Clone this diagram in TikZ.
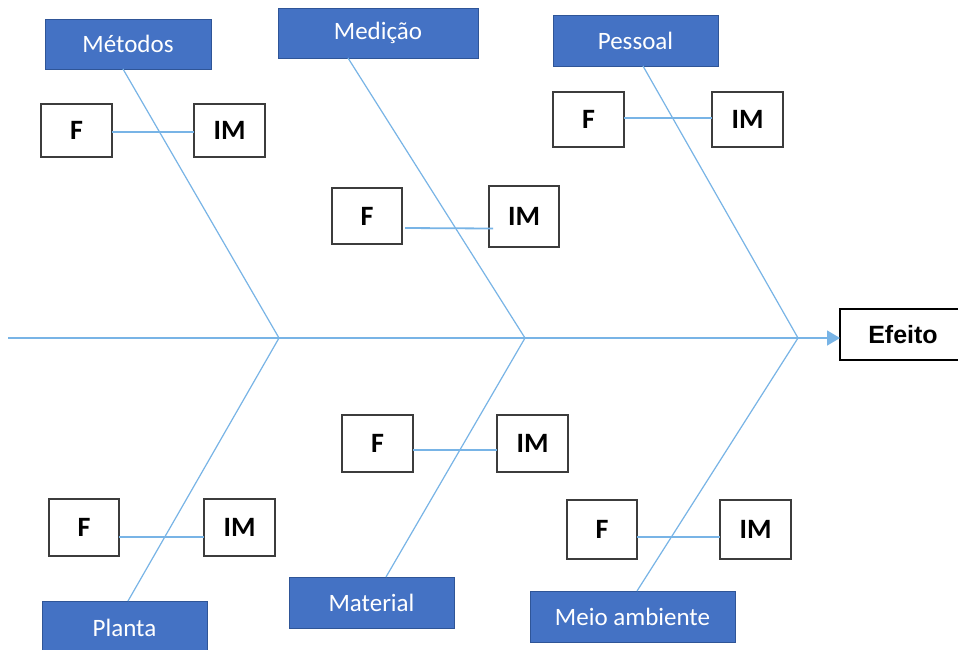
\documentclass[tikz,border=0pt]{standalone}
\usepackage{fontspec}
\setmainfont{Carlito}
\newfontfamily\arialfont{Liberation Sans}
\usetikzlibrary{arrows.meta}
\definecolor{catblue}{RGB}{68,114,196}
\definecolor{catborder}{RGB}{47,85,151}
\definecolor{boneline}{RGB}{120,180,230}
\definecolor{boxgray}{RGB}{60,60,60}
\tikzset{
  catbox/.style={rectangle, fill=catblue, draw=catborder, line width=1pt, text=white, font=\fontsize{25}{28}\selectfont, inner sep=0pt, outer sep=0pt},
  causebox/.style={rectangle, fill=white, draw=boxgray, line width=1.3pt, text=black, font=\fontsize{28}{32}\selectfont\bfseries, inner sep=0pt, outer sep=0pt},
  effectbox/.style={rectangle, fill=white, draw=black, line width=1.3pt, text=black, font=\arialfont\fontsize{25}{28}\selectfont\bfseries, inner sep=0pt, outer sep=0pt},
  bone/.style={draw=boneline, line width=1.2pt},
  twig/.style={draw=boneline, line width=1.1pt}
}
\begin{document}
\begin{tikzpicture}[x=1pt,y=-1pt]
\useasboundingbox (0,0) rectangle (958,649);
\clip (0,0) rectangle (958,649);
\fill[white] (0,0) rectangle (958,649);
% category boxes
\node[catbox, minimum width=166pt, minimum height=50pt] (met) at (128,44) {Métodos};
\node[catbox, minimum width=200pt, minimum height=50pt] (med) at (378,33) {Medição};
\node[catbox, minimum width=165pt, minimum height=51pt] (pes) at (635.5,40.5) {Pessoal};
\node[catbox, minimum width=165pt, minimum height=54pt] (pla) at (124.5,628) {Planta};
\node[catbox, minimum width=165pt, minimum height=51pt] (mat) at (371.5,602.5) {Material};
\node[catbox, minimum width=205pt, minimum height=51pt] (mei) at (632.5,616.5) {Meio ambiente};
% effect
\node[effectbox, minimum width=126pt, minimum height=51pt] (efe) at (903,334.5) {Efeito};
% junctions
\coordinate (s0) at (8,338);
\coordinate (j1) at (279,338);
\coordinate (j2) at (525,338);
\coordinate (j3) at (798,338);
% spine and bones
\draw[bone, line width=1.4pt, -{Triangle[length=13pt,width=15pt]}] (s0) -- (s0 -| efe.west);
\draw[bone] ([xshift=-5pt]met.south) -- (j1);
\draw[bone] ([xshift=-30pt]med.south) -- (j2);
\draw[bone] ([xshift=7.5pt]pes.south) -- (j3);
\draw[bone] ([xshift=3.5pt]pla.north) -- (j1);
\draw[bone] ([xshift=14.5pt]mat.north) -- (j2);
\draw[bone] ([xshift=4.5pt]mei.north) -- (j3);
% cause boxes
\node[causebox, minimum width=71pt, minimum height=53pt] (f1) at (76.5,130.5) {F};
\node[causebox, minimum width=71pt, minimum height=53pt] (im1) at (229.5,130.5) {IM};
\node[causebox, minimum width=70pt, minimum height=56pt] (f2) at (367,216) {F};
\node[causebox, minimum width=70pt, minimum height=61pt] (im2) at (524,216.5) {IM};
\node[causebox, minimum width=71pt, minimum height=55pt] (f3) at (588.5,119.5) {F};
\node[causebox, minimum width=71pt, minimum height=55pt] (im3) at (747.5,119.5) {IM};
\node[causebox, minimum width=70pt, minimum height=57pt] (f4) at (84,527.5) {F};
\node[causebox, minimum width=71pt, minimum height=57pt] (im4) at (239.5,527.5) {IM};
\node[causebox, minimum width=71pt, minimum height=57pt] (f5) at (377.5,443.5) {F};
\node[causebox, minimum width=71pt, minimum height=57pt] (im5) at (532.5,443.5) {IM};
\node[causebox, minimum width=70pt, minimum height=59pt] (f6) at (602,529.5) {F};
\node[causebox, minimum width=71pt, minimum height=59pt] (im6) at (755.5,529.5) {IM};
% twigs
\draw[twig] ([yshift=-1.5pt]f1.east) -- ([yshift=-1.5pt]im1.west);
\draw[twig, line width=1.8pt] ([xshift=3pt,yshift=-12pt]f2.east) -- ([xshift=4pt,yshift=-12pt]im2.west);
\draw[twig] ([yshift=1.5pt]f3.east) -- ([yshift=1.5pt]im3.west);
\draw[twig] ([yshift=-9.5pt]f4.east) -- ([yshift=-9.5pt]im4.west);
\draw[twig] ([yshift=-6.5pt]f5.east) -- ([yshift=-6.5pt]im5.west);
\draw[twig] ([yshift=-7.5pt]f6.east) -- ([yshift=-7.5pt]im6.west);
\end{tikzpicture}
\end{document}
